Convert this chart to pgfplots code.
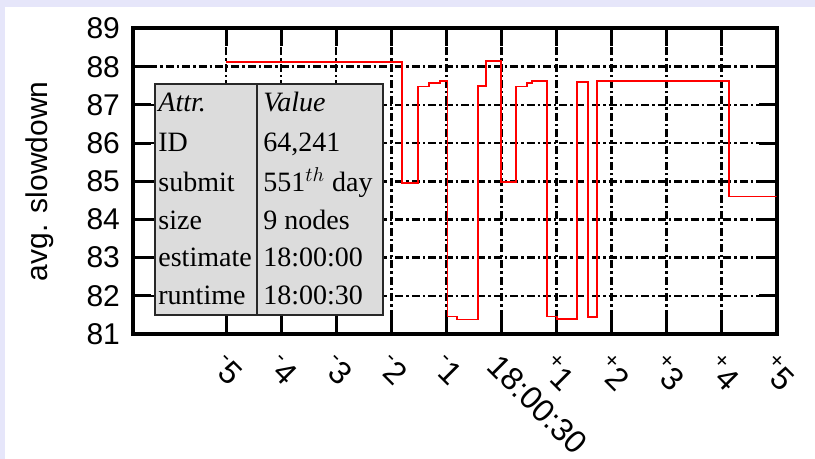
\documentclass[border=0pt]{standalone}
\usepackage{fontspec}
\setmainfont{Liberation Sans}
\newfontfamily\tabfont{Liberation Serif}
\usepackage{pgfplots}
\pgfplotsset{compat=1.18}
\definecolor{lav}{RGB}{230,230,250}
\definecolor{tabgray}{RGB}{220,220,220}
\definecolor{tabline}{RGB}{40,40,40}
\begin{document}
\begin{tikzpicture}
\useasboundingbox (0,0) rectangle (407.5pt,229.5pt);
\fill[lav] (0,0) rectangle (407.5pt,229.5pt);
\fill[white] (2.5pt,0) rectangle (407.5pt,226pt);
\begin{axis}[
  at={(66.5pt,62.5pt)}, anchor=south west,
  scale only axis, width=321.85pt, height=152.75pt,
  xmin=-6.69, xmax=5, ymin=81, ymax=89,
  xtick={-5,-4,-3,-2,-1,0,1,2,3,4,5},
  xticklabels={{\textsuperscript{-}5},{\textsuperscript{-}4},{\textsuperscript{-}3},{\textsuperscript{-}2},{\textsuperscript{-}1},18:00:30,{\textsuperscript{+}1},{\textsuperscript{+}2},{\textsuperscript{+}3},{\textsuperscript{+}4},{\textsuperscript{+}5}},
  ytick={81,82,...,89},
  tick align=inside, major tick length=9pt,
  axis line style={line width=2pt},
  tick style={black, line width=1.5pt},
  grid=major,
  major grid style={black, line width=1.3pt, dash pattern=on 4pt off 1.5pt on 1.2pt off 1.5pt},
  /pgf/number format/assume math mode=true,
  yticklabel style={font=\fontsize{15}{18}\selectfont, xshift=-3pt},
  xticklabel shift=9pt,
  xticklabel style={font=\fontsize{16}{19}\selectfont, rotate=-45, anchor=north west, inner sep=0pt},
  ylabel={avg. slowdown},
  ylabel style={font=\fontsize{15}{18}\selectfont, at={(axis description cs:-0.1445,0.5)}, anchor=center},
]
\addplot[red, line width=0.9pt, line join=miter] coordinates {
(-5,88.13) (-1.80,88.13)
(-1.80,84.95) (-1.52,84.95)
(-1.52,87.48) (-1.31,87.48)
(-1.31,87.58) (-1.12,87.58)
(-1.12,87.62) (-0.98,87.62)
(-0.98,81.46) (-0.80,81.46)
(-0.80,81.38) (-0.43,81.38)
(-0.43,87.50) (-0.28,87.50)
(-0.28,88.15) (-0.01,88.15)
(-0.01,84.97) (0.26,84.97)
(0.26,87.48) (0.47,87.48)
(0.47,87.58) (0.56,87.58)
(0.56,87.62) (0.83,87.62)
(0.83,81.46) (1.01,81.46)
(1.01,81.40) (1.38,81.40)
(1.38,87.60) (1.58,87.60)
(1.58,81.45) (1.74,81.45)
(1.74,87.62) (4.13,87.62)
(4.13,84.60) (5,84.60)
};
\end{axis}
\draw[tabline, line width=1.3pt, fill=tabgray] (77.5pt,72pt) rectangle (191.5pt,187.5pt);
\draw[tabline, line width=0.6pt] (128.5pt,72pt) -- (128.5pt,187.5pt);
\begin{scope}[every node/.style={anchor=base west, inner sep=0pt, font=\tabfont\fontsize{14}{16}\selectfont}]
\node at (79pt,173.5pt) {\itshape Attr.};
\node at (131.5pt,173.5pt) {\itshape Value};
\node at (79pt,153.5pt) {ID};
\node at (131.5pt,153.5pt) {64,241};
\node at (79pt,133.5pt) {submit};
\node at (131.5pt,133.5pt) {551$^{th}$ day};
\node at (79pt,114.5pt) {size};
\node at (131.5pt,114.5pt) {9 nodes};
\node at (79pt,96pt) {estimate};
\node at (131.5pt,96pt) {18:00:00};
\node at (79pt,77pt) {runtime};
\node at (131.5pt,77pt) {18:00:30};
\end{scope}
\end{tikzpicture}
\end{document}
